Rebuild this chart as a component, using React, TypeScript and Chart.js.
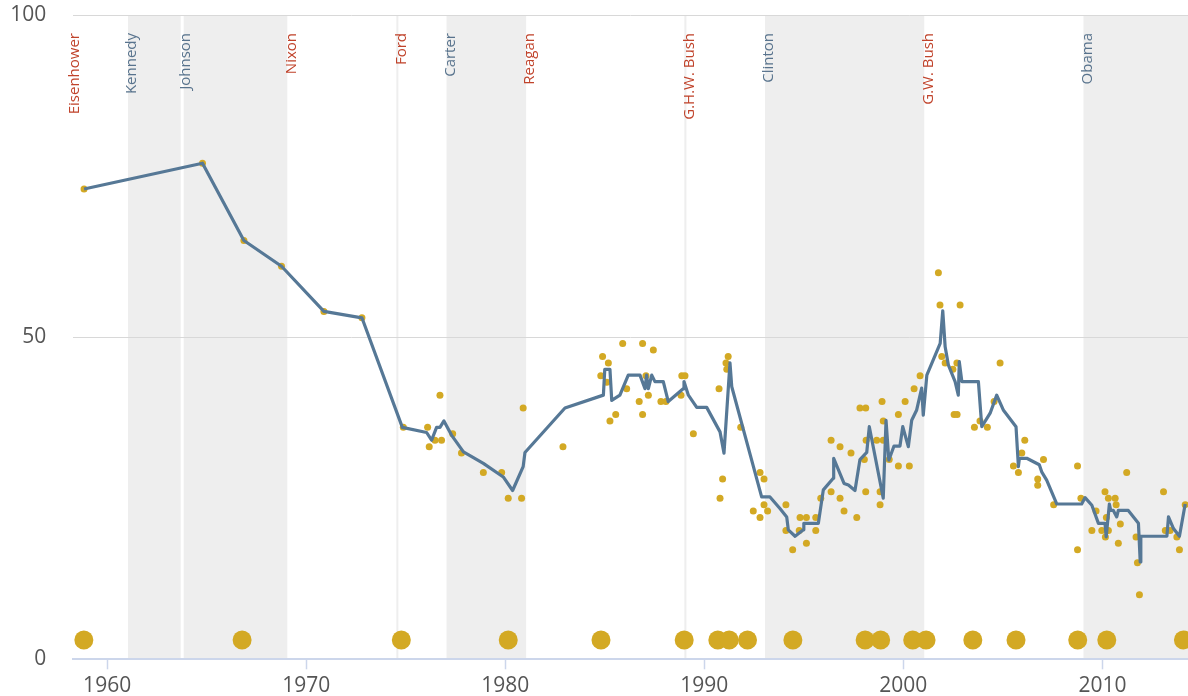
import React, { useEffect, useRef } from 'react';
import { Chart, registerables } from 'chart.js';

Chart.register(...registerables);

// ---------- Data ----------
const presidents = ['Eisenhower', 'Kennedy', 'Johnson', 'Nixon', 'Ford', 'Carter', 'Reagan', 'G.H.W. Bush', 'Clinton', 'G.W. Bush', 'Obama'];
const termStarts = [1953.05, 1961.05, 1963.77, 1969.05, 1974.58, 1977.05, 1981.05, 1989.05, 1993.05, 2001.05, 2009.05];
const parties = ['R', 'D', 'D', 'R', 'R', 'D', 'R', 'R', 'D', 'R', 'D'];

// Moving average (line)
const avgYears = [
  1958.84, 1964.79, 1966.87, 1968.76, 1970.89, 1972.8, 1974.83, 1976.05, 1976.3, 1976.55,
  1976.72, 1976.92, 1977.3, 1977.9, 1978.9, 1979.9, 1980.37, 1980.9, 1980.99, 1983.0,
  1984.93, 1985.0, 1985.26, 1985.35, 1985.76, 1986.18, 1986.77, 1987.02, 1987.1, 1987.19,
  1987.36, 1987.52, 1987.94, 1988.19, 1988.94, 1988.98, 1989.2, 1989.62, 1990.12, 1990.79,
  1990.99, 1991.29, 1991.38, 1992.88, 1993.3, 1993.8, 1994.14, 1994.22, 1994.56, 1994.98,
  1995.0, 1995.73, 1995.98, 1996.48, 1996.5, 1997.02, 1997.24, 1997.57, 1997.82, 1998.16,
  1998.29, 1998.99, 1999.13, 1999.27, 1999.53, 1999.83, 1999.97, 2000.25, 2000.42, 2000.67,
  2000.92, 2001.0, 2001.18, 2001.85, 2001.98, 2002.1, 2002.26, 2002.6, 2002.76, 2002.81,
  2002.94, 2003.77, 2003.94, 2004.36, 2004.69, 2005.02, 2005.66, 2005.78, 2005.83, 2006.2,
  2006.83, 2006.95, 2007.2, 2007.71, 2008.96, 2009.13, 2009.47, 2009.8, 2010.13, 2010.19,
  2010.35, 2010.42, 2010.55, 2010.72, 2010.8, 2011.3, 2011.56, 2011.81, 2011.9, 2011.93,
  2013.24, 2013.32, 2013.57, 2013.87, 2014.16,
];
const avgValues = [
  73, 77, 65, 61, 54, 53, 36, 35.2, 34, 36,
  36, 37, 34.8, 32.2, 30.4, 28.3, 26.2, 29.9, 32.1, 39,
  41, 45, 45, 40.2, 41, 44.1, 44.1, 42, 44.1, 42,
  44.1, 43.1, 43.1, 40, 42, 43.1, 41, 39.1, 39.1, 35.3,
  32, 46, 42.3, 25.2, 25.2, 23.4, 22.1, 20.1, 19.1, 20.1,
  21.1, 21.1, 26.3, 28.1, 31.2, 27.3, 27.05, 26.2, 31, 32.1,
  36.1, 25, 37.1, 30.9, 33.1, 33.1, 36.1, 33, 37.1, 38.7,
  42.1, 37.9, 44.1, 49.05, 54.1, 48.5, 45.7, 43.1, 41, 46.2,
  43.1, 43.1, 36.1, 38.2, 41, 38.7, 36.1, 29.9, 31.2, 31.2,
  30.2, 29.1, 27.8, 24.1, 24.1, 25.1, 23.9, 21.1, 21.1, 19,
  24.1, 23.1, 23.1, 22.1, 23.1, 23.1, 22.1, 21.1, 15.1, 19.1,
  19.1, 22.1, 20.3, 19.1, 24.1,
];

// Individual polls (small dots)
const pollYears = [
  1958.84, 1964.79, 1966.87, 1968.76, 1970.89, 1972.8, 1974.88, 1976.1, 1976.18, 1976.47,
  1976.8, 1976.72, 1977.36, 1977.8, 1978.9, 1979.82, 1980.15, 1980.82, 1980.9, 1982.9,
  1984.89, 1985.18, 1984.8, 1985.1, 1985.26, 1985.55, 1985.9, 1986.1, 1986.9, 1987.44,
  1986.73, 1986.9, 1987.07, 1987.19, 1987.82, 1988.07, 1988.83, 1988.87, 1989.03, 1989.45,
  1990.74, 1990.92, 1990.79, 1991.09, 1991.2, 1991.13, 1991.83, 1992.8, 1993.0, 1993.0,
  1992.46, 1992.8, 1993.18, 1994.1, 1994.1, 1994.44, 1994.77, 1994.81, 1995.13, 1995.13,
  1995.6, 1995.6, 1995.85, 1996.37, 1996.37, 1996.82, 1996.82, 1997.02, 1997.37, 1997.66,
  1997.82, 1998.11, 1998.04, 1998.13, 1998.11, 1998.66, 1998.83, 1998.83, 1998.93, 1998.99,
  1998.99, 1999.29, 1999.75, 1999.75, 2000.09, 2000.3, 2000.54, 2000.84, 2001.76, 2001.84,
  2001.93, 2002.1, 2002.49, 2002.55, 2002.69, 2002.7, 2002.85, 2003.57, 2003.85, 2004.22,
  2004.56, 2004.86, 2005.53, 2005.78, 2005.95, 2006.1, 2006.75, 2006.75, 2007.04, 2007.55,
  2008.75, 2008.75, 2008.92, 2009.47, 2009.68, 2009.97, 2010.13, 2010.15, 2010.2, 2010.3,
  2010.3, 2010.64, 2010.69, 2010.8, 2010.9, 2011.22, 2011.69, 2011.76, 2011.86, 2013.07,
  2013.16, 2013.4, 2013.74, 2013.87, 2014.16,
];
const pollValues = [
  73, 77, 65, 61, 54, 53, 36, 36, 33, 34,
  34, 41, 35, 32, 29, 29, 25, 25, 39, 33,
  47, 46, 44, 43, 37, 38, 49, 42, 49, 48,
  40, 38, 44, 41, 40, 40, 41, 44, 44, 35,
  42, 28, 25, 46, 47, 45, 36, 29, 28, 24,
  23, 22, 23, 24, 20, 17, 20, 22, 22, 18,
  22, 20, 25, 34, 26, 33, 25, 23, 32, 22,
  39, 39, 31, 34, 26, 34, 26, 24, 40, 37,
  34, 31, 38, 30, 40, 30, 42, 44, 60, 55,
  47, 46, 45, 38, 46, 38, 55, 36, 37, 36,
  40, 46, 30, 29, 32, 34, 28, 27, 31, 24,
  30, 17, 25, 20, 23, 20, 26, 19, 22, 25,
  20, 25, 24, 18, 21, 29, 19, 15, 10, 26,
  20, 20, 19, 17, 24,
];

// Large markers along the bottom
const markerYears = [
  1958.83, 1966.78, 1974.78, 1980.15, 1984.81, 1988.99, 1990.68, 1991.25, 1992.17, 1994.45,
  1998.08, 1998.86, 2000.47, 2001.14, 2003.49, 2005.66, 2008.76, 2010.22, 2014.07,
];
const markerLevel = 3;

const xTicks = [1960, 1970, 1980, 1990, 2000, 2010];
const yTicks = [0, 50, 100];

// ---------- Styles ----------
const FONT = "'Open Sans', 'Noto Sans', sans-serif";
const GOLD = '#d3a924';
const LINE = '#567896';
const BAND = '#eeeeee';
const REP = '#c0432b';
const DEM = '#58738d';

const zeroPad = (s: any) => {
  s.paddingTop = 0;
  s.paddingBottom = 0;
  s.paddingLeft = 0;
  s.paddingRight = 0;
};

const bandsPlugin = {
  id: 'presidentBands',
  beforeDraw(chart: any) {
    const { ctx, chartArea: a } = chart;
    const x = chart.scales.x;
    const n = presidents.length;
    ctx.save();
    for (let i = 0; i < n; i++) {
      if (parties[i] !== 'D') continue;
      const s = Math.max(x.getPixelForValue(termStarts[i]), a.left);
      const e = i + 1 < n ? x.getPixelForValue(termStarts[i + 1]) : a.right;
      ctx.fillStyle = BAND;
      ctx.fillRect(s, a.top, Math.min(e, a.right) - s, a.bottom - a.top);
    }
    for (let i = 1; i < n; i++) {
      if (parties[i] !== parties[i - 1]) continue;
      const px = x.getPixelForValue(termStarts[i]);
      const w = parties[i] === 'D' ? 3 : 2;
      ctx.fillStyle = parties[i] === 'D' ? '#ffffff' : BAND;
      ctx.fillRect(px - w / 2, a.top, w, a.bottom - a.top);
    }
    ctx.font = `15px ${FONT}`;
    ctx.textAlign = 'right';
    ctx.textBaseline = 'middle';
    for (let i = 0; i < n; i++) {
      const px = Math.max(x.getPixelForValue(termStarts[i]) + 4, a.left + 1);
      ctx.save();
      ctx.translate(px, a.top + 18);
      ctx.rotate(-Math.PI / 2);
      ctx.fillStyle = parties[i] === 'R' ? REP : DEM;
      ctx.fillText(presidents[i], 0, 0);
      ctx.restore();
    }
    ctx.restore();
  },
};

export default function App() {
  const ref = useRef<HTMLCanvasElement | null>(null);

  useEffect(() => {
    document.body.style.margin = '0';
    const canvas = ref.current;
    if (!canvas) return;
    const chart = new Chart(canvas, {
      type: 'scatter',
      data: {
        datasets: [
          {
            type: 'line',
            label: 'Average',
            data: avgYears.map((yr, i) => ({ x: yr, y: avgValues[i] })),
            borderColor: LINE,
            borderWidth: 3.2,
            pointRadius: 0,
            tension: 0,
            fill: false,
            borderJoinStyle: 'round',
          } as any,
          {
            type: 'scatter',
            label: 'Polls',
            data: pollYears.map((yr, i) => ({ x: yr, y: pollValues[i] })),
            backgroundColor: GOLD,
            borderWidth: 0,
            pointRadius: 3.5,
          },
          {
            type: 'scatter',
            label: 'Markers',
            data: markerYears.map((yr) => ({ x: yr, y: markerLevel })),
            backgroundColor: GOLD,
            borderWidth: 0,
            pointRadius: 9.5,
          },
        ],
      },
      options: {
        animation: false,
        responsive: false,
        events: [],
        layout: { autoPadding: false, padding: { top: 15, right: 0, left: 0, bottom: 0 } },
        plugins: { legend: { display: false }, tooltip: { enabled: false } },
        scales: {
          x: {
            type: 'linear',
            min: 1958.3,
            max: 2014.3,
            afterBuildTicks: (s: any) => {
              s.ticks = xTicks.map((v) => ({ value: v }));
            },
            afterFit: (s: any) => {
              s.height = 36.7;
              zeroPad(s);
            },
            grid: {
              drawOnChartArea: false,
              drawTicks: true,
              tickLength: 10,
              tickColor: '#ccd6eb',
              tickWidth: 1.5,
            },
            border: { display: true, color: '#ccd6eb', width: 2 },
            ticks: {
              color: '#555',
              font: { size: 21, family: FONT },
              padding: 4,
              maxRotation: 0,
              autoSkip: false,
              callback: (v: any) => String(v),
            },
          },
          y: {
            type: 'linear',
            min: 0,
            max: 100,
            afterBuildTicks: (s: any) => {
              s.ticks = yTicks.map((v) => ({ value: v }));
            },
            afterFit: (s: any) => {
              s.width = 73.3;
              zeroPad(s);
            },
            grid: {
              color: (c: any) => (c.tick && c.tick.value === 0 ? 'rgba(0,0,0,0)' : '#d8d8d8'),
              drawTicks: false,
              lineWidth: 1,
            },
            border: { display: false },
            ticks: {
              color: '#555',
              font: { size: 21, family: FONT },
              padding: 27,
              callback: (v: any) => String(v),
            },
          },
        },
      } as any,
      plugins: [bandsPlugin],
    });
    return () => chart.destroy();
  }, []);

  return (
    <div style={{ width: 1188, height: 696 }}>
      <canvas ref={ref} width={1188} height={696} style={{ display: 'block' }} />
    </div>
  );
}
